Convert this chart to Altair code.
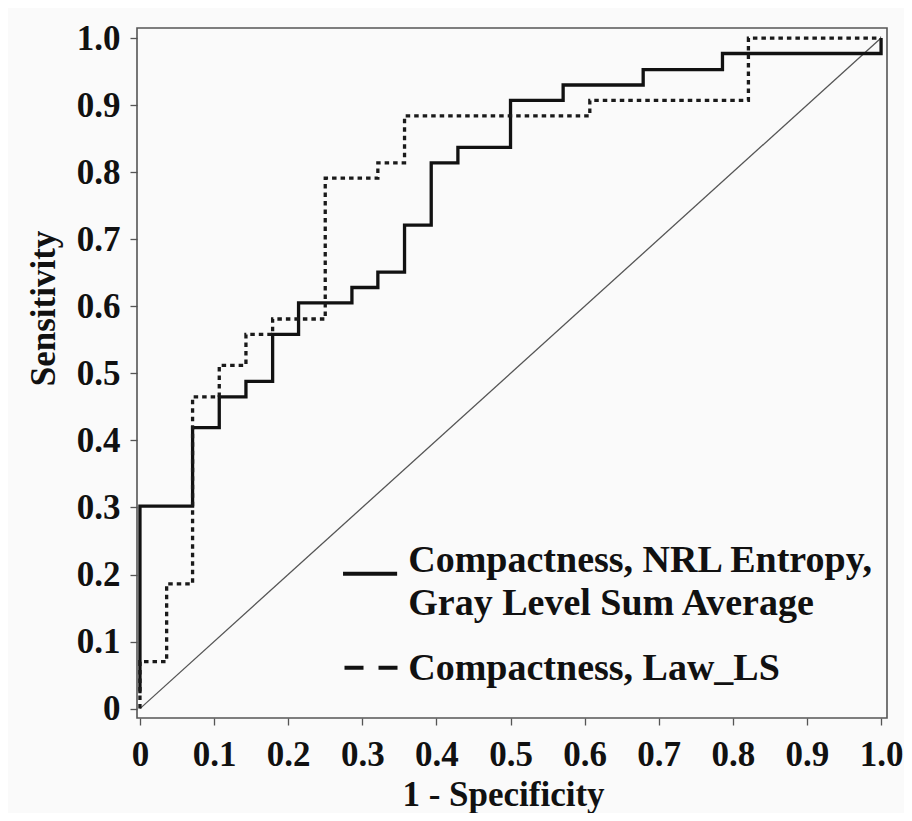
import altair as alt
import pandas as pd

# ROC curve 1 (solid): Compactness, NRL Entropy, Gray Level Sum Average
fpr_a = [0.0, 0.0, 0.071, 0.107, 0.143, 0.179, 0.214, 0.286, 0.321, 0.357,
         0.393, 0.429, 0.500, 0.571, 0.679, 0.786, 1.0]
tpr_a = [0.023, 0.302, 0.419, 0.465, 0.488, 0.558, 0.605, 0.628, 0.651, 0.721,
         0.814, 0.837, 0.907, 0.930, 0.953, 0.977, 1.0]

# ROC curve 2 (dashed): Compactness, Law_LS
fpr_b = [0.0, 0.0, 0.036, 0.071, 0.107, 0.143, 0.179, 0.250, 0.321, 0.357,
         0.607, 0.821, 1.0]
tpr_b = [0.0, 0.070, 0.186, 0.465, 0.512, 0.558, 0.581, 0.791, 0.814, 0.884,
         0.907, 1.0, 1.0]

# chance diagonal
diag_x = [0.0, 1.0]
diag_y = [0.0, 1.0]

tick_values = [0, 0.05, 0.1, 0.15, 0.2, 0.25, 0.3, 0.35, 0.4, 0.45, 0.5,
               0.55, 0.6, 0.65, 0.7, 0.75, 0.8, 0.85, 0.9, 0.95, 1.0]

legend_lines = ["Compactness, NRL Entropy,", "Gray Level Sum Average", "Compactness, Law_LS"]

FONT = "Liberation Serif"

df_a = pd.DataFrame({"x": fpr_a, "y": tpr_a, "i": range(len(fpr_a))})
df_b = pd.DataFrame({"x": fpr_b, "y": tpr_b, "i": range(len(fpr_b))})
df_d = pd.DataFrame({"x": diag_x, "y": diag_y, "i": range(2)})

label_expr = ("round(datum.value*20) % 2 == 0 ? (datum.value == 0 ? '0' : format(datum.value, '.1f')) : ''")

xscale = alt.Scale(domain=[-0.004, 1.008], nice=False, zero=False)
yscale = alt.Scale(domain=[-0.014, 1.015], nice=False, zero=False)

common_axis = dict(
    values=tick_values, labelExpr=label_expr, labelFont=FONT, labelFontSize=35,
    labelFontWeight="bold", labelColor="#111", tickColor="#555", tickSize=7,
    tickWidth=1.3, domain=False, grid=False, labelFlush=False, labelOverlap=False,
    labelBound=False, titleFont=FONT, titleFontSize=35, titleFontWeight="bold",
    titleColor="#111",
)

xaxis = alt.Axis(title="1 - Specificity", labelPadding=12, titleX=366, titleY=87,
                 titleBaseline="alphabetic", titleAlign="center", **common_axis)
yaxis = alt.Axis(title="Sensitivity", labelPadding=10, titleX=-83, titleY=280,
                 titleAngle=270, titleBaseline="alphabetic", titleAlign="center",
                 **common_axis)

enc_x = alt.X("x:Q", scale=xscale, axis=xaxis)
enc_y = alt.Y("y:Q", scale=yscale, axis=yaxis)

diag = alt.Chart(df_d).mark_line(color="#555", strokeWidth=1.3).encode(
    x=enc_x, y=enc_y, order="i:O")

line_a = alt.Chart(df_a).mark_line(color="#111", strokeWidth=3.3,
                                   interpolate="step-after").encode(
    x=enc_x, y=enc_y, order="i:O")

line_b = alt.Chart(df_b).mark_line(color="#1a1a1a", strokeWidth=3.3,
                                   strokeDash=[4.5, 4], interpolate="step-after").encode(
    x=enc_x, y=enc_y, order="i:O")

# legend (placed in data coordinates inside the plot)
leg_text = pd.DataFrame({"x": [0.362, 0.362, 0.362], "y": [0.204, 0.140, 0.043],
                         "t": legend_lines})
leg_txt = alt.Chart(leg_text).mark_text(align="left", baseline="alphabetic",
                                        font=FONT, fontSize=38, fontWeight="bold",
                                        color="#111").encode(
    x=alt.X("x:Q", scale=xscale), y=alt.Y("y:Q", scale=yscale), text="t:N")

leg_solid = alt.Chart(pd.DataFrame({"x": [0.274], "x2": [0.347], "y": [0.201]})).mark_rule(
    color="#111", strokeWidth=4).encode(
    x=alt.X("x:Q", scale=xscale), x2="x2:Q", y=alt.Y("y:Q", scale=yscale))

leg_dash = alt.Chart(pd.DataFrame({"x": [0.276], "x2": [0.348], "y": [0.061]})).mark_rule(
    color="#111", strokeWidth=4, strokeDash=[19, 15]).encode(
    x=alt.X("x:Q", scale=xscale), x2="x2:Q", y=alt.Y("y:Q", scale=yscale))

chart = alt.layer(diag, line_a, line_b, leg_solid, leg_dash, leg_txt).properties(
    width=750, height=690,
    autosize=alt.AutoSizeParams(type="none"),
    padding={"left": 129, "top": 20, "right": 17, "bottom": 95},
    background="#fafafa",
).configure_view(stroke="#555", strokeWidth=1.6, fill="#fafafa")

chart.save("out.html", embed_options={"renderer": "svg", "actions": False})
